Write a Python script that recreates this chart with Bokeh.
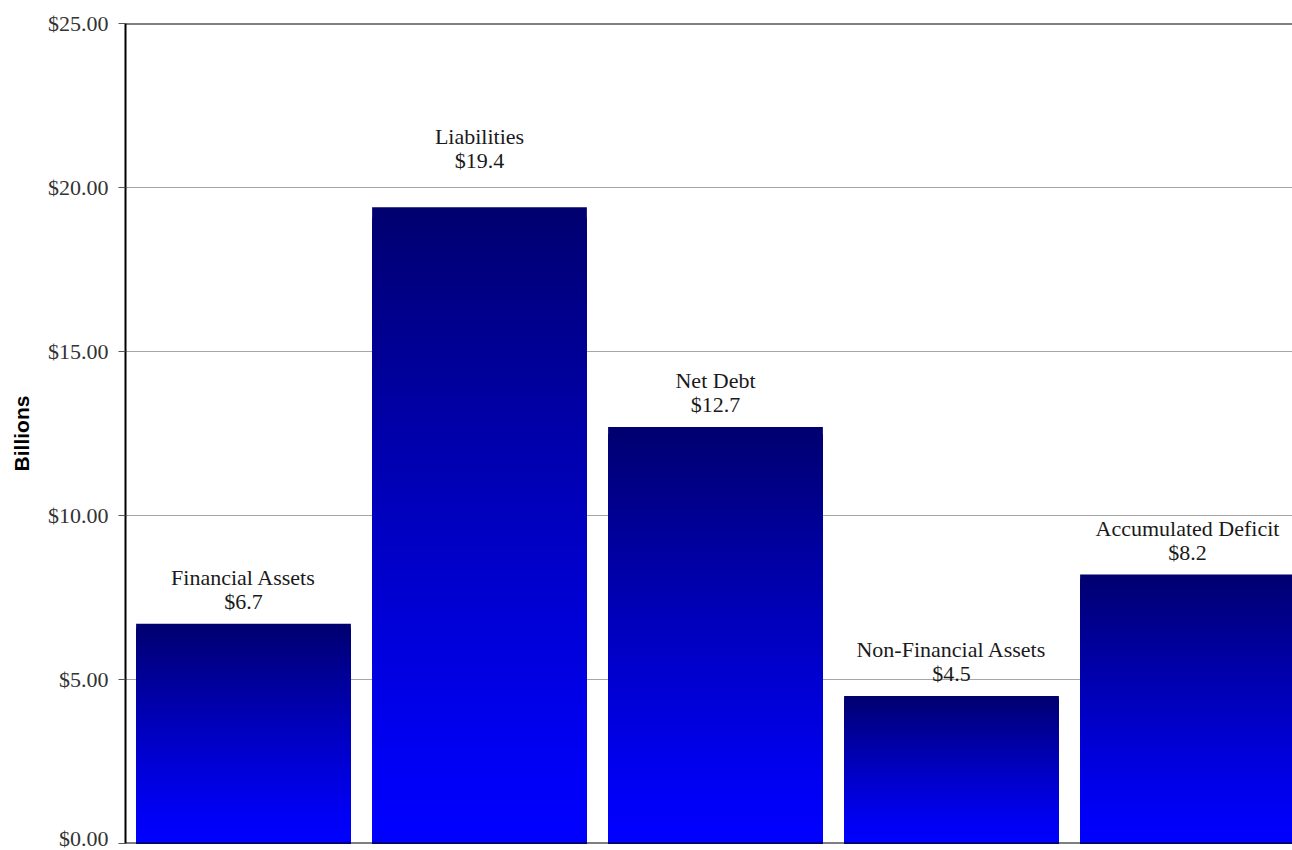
from bokeh.plotting import figure
from bokeh.models import ColumnDataSource, Span, FixedTicker, Range1d
from bokeh.core.properties import value
from bokeh.embed import file_html
from bokeh.resources import INLINE

# ---- data ----
categories = ["Financial Assets", "Liabilities", "Net Debt",
              "Non-Financial Assets", "Accumulated Deficit"]
amounts = [6.7, 19.4, 12.7, 4.5, 8.2]
value_labels = ["$6.7", "$19.4", "$12.7", "$4.5", "$8.2"]
y_ticks = [0, 5, 10, 15, 20, 25]
y_tick_labels = ["$0.00", "$5.00", "$10.00", "$15.00", "$20.00", "$25.00"]

# ---- style ----
label_extra_lift_px = [0, 25, 0, 0, 0]
bar_width = 0.91
n_slices = 60
top_rgb = (0, 0, 112)
bottom_rgb = (0, 0, 255)
serif = "Liberation Serif"

p = figure(width=1292, height=850, output_backend="svg", toolbar_location=None,
           x_range=Range1d(-0.5, 4.445), y_range=Range1d(0, 25),
           min_border_left=125, min_border_right=0, min_border_top=23,
           min_border_bottom=7)
p.outline_line_color = None
p.background_fill_color = "white"
p.border_fill_color = "white"

# gradient bars: nested rects drawn from tallest (dark) to shortest (bright)
xs, tops, colors = [], [], []
for k in range(n_slices, 0, -1):
    f = k / n_slices
    t = ((k - 1) / (n_slices - 1)) ** 1.2  # 1 at top, 0 at bottom
    r = round(bottom_rgb[0] + (top_rgb[0] - bottom_rgb[0]) * t)
    g = round(bottom_rgb[1] + (top_rgb[1] - bottom_rgb[1]) * t)
    b = round(bottom_rgb[2] + (top_rgb[2] - bottom_rgb[2]) * t)
    col = "#%02x%02x%02x" % (r, g, b)
    for i, a in enumerate(amounts):
        xs.append(i)
        tops.append(a * f)
        colors.append(col)
src = ColumnDataSource(dict(x=xs, top=tops, color=colors))
p.vbar(x="x", top="top", bottom=0, width=bar_width, fill_color="color",
       line_color=None, source=src)

# labels
pos = list(range(len(categories)))
lab_src = ColumnDataSource(dict(x=pos, y=amounts, cat=categories, val=value_labels,
                                off1=[-22 - e for e in label_extra_lift_px],
                                off2=[-46 - e for e in label_extra_lift_px]))
p.text(x="x", y="y", text="val", y_offset="off1", source=lab_src,
       text_font=value(serif), text_font_size="22px", text_color="#1a1a1a",
       text_align="center", text_baseline="middle")
p.text(x="x", y="y", text="cat", y_offset="off2", source=lab_src,
       text_font=value(serif), text_font_size="22px", text_color="#1a1a1a",
       text_align="center", text_baseline="middle")

# grid
p.xgrid.visible = False
p.ygrid.ticker = FixedTicker(ticks=y_ticks)
p.ygrid.grid_line_color = "#a6a6a6"
p.ygrid.grid_line_width = 1

# axes
p.xaxis.visible = False
ya = p.yaxis[0]
ya.ticker = FixedTicker(ticks=y_ticks)
ya.major_label_overrides = {t: l for t, l in zip(y_ticks, y_tick_labels)}
ya.major_label_text_font = serif
ya.major_label_text_font_size = "22px"
ya.major_label_text_color = "#333333"
ya.major_label_standoff = 10
ya.major_tick_in = 0
ya.major_tick_out = 7
ya.minor_tick_in = 0
ya.minor_tick_out = 0
ya.major_tick_line_color = "#555555"
ya.axis_line_color = "black"
ya.axis_line_width = 2
ya.axis_label = "Billions"
ya.axis_label_text_font = "Liberation Sans"
ya.axis_label_text_font_style = "bold"
ya.axis_label_text_font_size = "21px"
ya.axis_label_text_color = "black"
ya.axis_label_standoff = 12

p.add_layout(Span(location=0, dimension="width", line_color="black", line_width=2))
p.add_layout(Span(location=25, dimension="width", line_color="black", line_width=2))

open("out.html", "w").write(file_html(p, INLINE))
